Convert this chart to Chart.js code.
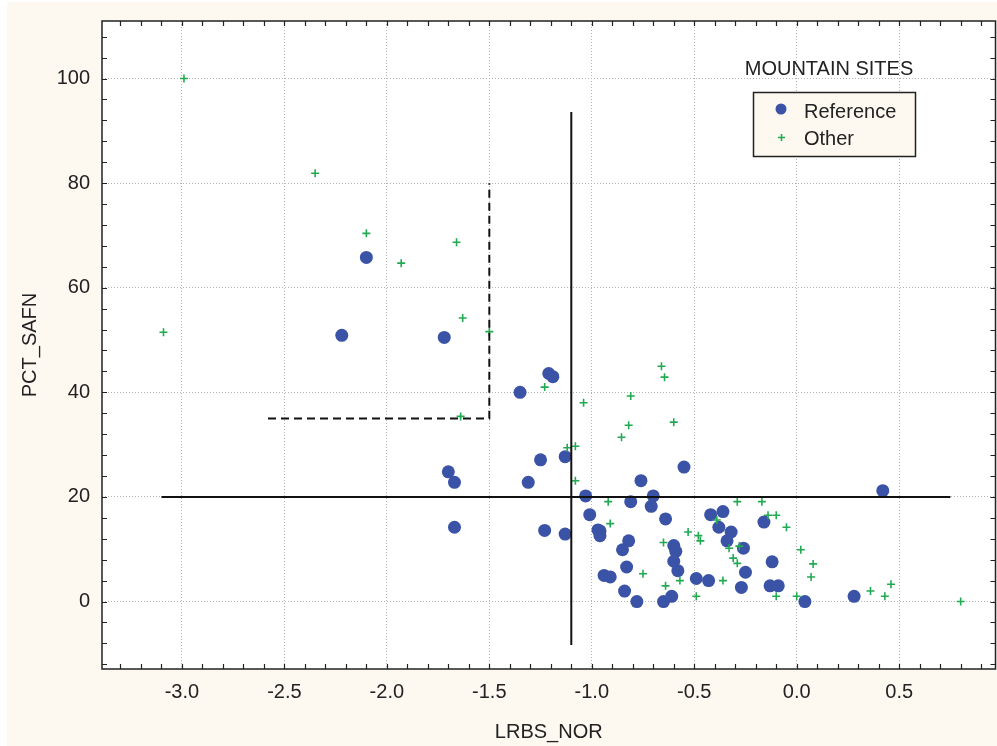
<!DOCTYPE html>
<html>
<head>
<meta charset="utf-8">
<script src="https://cdn.jsdelivr.net/npm/chart.js@4/dist/chart.umd.min.js"></script>
<style>
  html, body { margin: 0; padding: 0; background: #ffffff; overflow: hidden; }
  #wrap { position: absolute; left: 0; top: 0; width: 1002px; height: 746px; }
</style>
</head>
<body>
<div id="wrap"><canvas id="sites"></canvas></div>
<script>
// Reference sites (LRBS_NOR, PCT_SAFN)
const refX = [-2.10, -2.22, -1.72, -1.35, -1.21, -1.19, -1.70, -1.67, -1.67, -1.31,
  -1.25, -1.13, -1.23, -1.13, -1.03, -0.76, -0.55, 0.42, -0.81, -0.70,
  -0.71, -1.01, -0.64, -0.42, -0.36, -0.38, -0.16, -0.32, -0.34, -0.26,
  -0.97, -0.96, -0.96, -0.82, -0.85, -0.60, -0.59, -0.60, -0.58, -0.83,
  -0.12, -0.25, -0.94, -0.91, -0.49, -0.43, -0.27, -0.13, -0.09, -0.84,
  -0.78, -0.65, -0.61, 0.04, 0.28];
const refY = [65.8, 50.9, 50.5, 40.0, 43.6, 43.0, 24.8, 22.8, 14.2, 22.8,
  27.1, 27.7, 13.6, 12.9, 20.2, 23.1, 25.7, 21.2, 19.1, 20.2,
  18.2, 16.6, 15.8, 16.6, 17.2, 14.2, 15.2, 13.3, 11.6, 10.2,
  13.7, 13.5, 12.6, 11.6, 9.9, 10.7, 9.6, 7.7, 5.9, 6.6,
  7.6, 5.6, 5.0, 4.7, 4.4, 4.0, 2.7, 3.0, 3.0, 2.0,
  0.0, 0.0, 1.0, 0.0, 1.0];

// Other sites
const otherX = [-2.99, -2.35, -2.10, -1.66, -1.93, -3.09, -1.63, -1.50, -1.64, -0.66,
  -0.645, -1.23, -0.81, -1.04, -0.60, -0.82, -0.855, -1.12, -1.08, -1.08,
  -0.92, -0.29, -0.17, -0.91, -0.39, -0.14, -0.10, -0.05, -0.53, -0.48,
  -0.47, -0.65, -0.33, -0.28, -0.31, -0.29, 0.02, 0.08, 0.07, -0.75,
  -0.57, -0.36, -0.64, -0.49, -0.10, 0.00, 0.36, 0.46, 0.43, 0.80];
const otherY = [100.0, 81.9, 70.4, 68.7, 64.7, 51.5, 54.2, 51.6, 35.4, 45.0,
  42.9, 41.0, 39.3, 38.0, 34.3, 33.7, 31.4, 29.4, 29.7, 23.1,
  19.1, 19.1, 19.1, 14.9, 15.6, 16.5, 16.5, 14.2, 13.3, 12.6,
  11.6, 11.3, 10.2, 10.6, 8.3, 7.3, 9.9, 7.2, 4.7, 5.3,
  4.0, 4.0, 3.0, 1.0, 1.0, 1.0, 2.0, 3.3, 1.0, 0.0];

// Threshold lines and the dashed target corner
const cutX = [-1.1, -1.1];
const cutXSpan = [-8.3, 93.6];
const cutYSpan = [-3.1, 0.75];
const cutY = [20, 20];
const cornerX = [-2.58, -1.5, -1.5];
const cornerY = [35, 35, 80];

const xTicks = [-3.0, -2.5, -2.0, -1.5, -1.0, -0.5, 0.0, 0.5];
const yTicks = [0, 20, 40, 60, 80, 100];

const legendTitle = "MOUNTAIN SITES";
const FONT = "'Liberation Sans', Arial, sans-serif";
const INK = "#222222";
const CREAM = "#fdf9f1";
const BLUE = "#3b53a6";
const GREEN = "#22aa52";

function zip(xs, ys) {
  return xs.map((x, i) => ({ x: x, y: ys[i] }));
}

const pageBackground = {
  id: "pageBackground",
  beforeDraw(chart) {
    const ctx = chart.ctx;
    const a = chart.chartArea;
    ctx.save();
    ctx.fillStyle = "#ffffff";
    ctx.fillRect(0, 0, chart.width, chart.height);
    ctx.fillStyle = CREAM;
    ctx.fillRect(7, 2, chart.width - 7, chart.height - 2);
    ctx.fillStyle = "#ffffff";
    ctx.fillRect(a.left, a.top, a.right - a.left, a.bottom - a.top);
    ctx.restore();
  },
};

// frame, inward minor ticks and the boxed legend
const frameAndLegend = {
  id: "frameAndLegend",
  afterDraw(chart) {
    const ctx = chart.ctx;
    const a = chart.chartArea;
    const xs = chart.scales.x;
    const ys = chart.scales.y;
    ctx.save();
    ctx.strokeStyle = INK;
    ctx.lineWidth = 1.5;
    ctx.strokeRect(a.left, a.top, a.right - a.left, a.bottom - a.top);

    ctx.lineWidth = 1.2;
    ctx.beginPath();
    for (let i = -33; i <= 9; i++) {
      const px = Math.round(xs.getPixelForValue(i / 10)) + 0.5;
      ctx.moveTo(px, a.bottom);
      ctx.lineTo(px, a.bottom - 5);
      ctx.moveTo(px, a.top);
      ctx.lineTo(px, a.top + 5);
    }
    for (let v = -12; v <= 108; v += 4) {
      const py = Math.round(ys.getPixelForValue(v)) + 0.5;
      ctx.moveTo(a.left, py);
      ctx.lineTo(a.left + 5, py);
      ctx.moveTo(a.right, py);
      ctx.lineTo(a.right - 5, py);
    }
    ctx.stroke();

    // legend
    ctx.fillStyle = INK;
    ctx.font = "20px " + FONT;
    ctx.textAlign = "center";
    ctx.textBaseline = "middle";
    ctx.fillText(legendTitle, 829, 69);

    ctx.fillStyle = CREAM;
    ctx.fillRect(753, 92, 162, 64);
    ctx.strokeStyle = INK;
    ctx.lineWidth = 1.5;
    ctx.strokeRect(753.5, 92.5, 162, 64);

    ctx.fillStyle = BLUE;
    ctx.beginPath();
    ctx.arc(781, 109, 5.5, 0, Math.PI * 2);
    ctx.fill();

    ctx.strokeStyle = GREEN;
    ctx.lineWidth = 1.6;
    ctx.beginPath();
    ctx.moveTo(778, 137.5);
    ctx.lineTo(785, 137.5);
    ctx.moveTo(781.5, 134);
    ctx.lineTo(781.5, 141);
    ctx.stroke();

    ctx.fillStyle = INK;
    ctx.textAlign = "left";
    ctx.fillText(chart.data.datasets[4].label, 804, 112);
    ctx.fillText(chart.data.datasets[3].label, 804, 139);
    ctx.restore();
  },
};

const lineStyle = {
  type: "line",
  borderColor: "#111111",
  borderWidth: 2,
  pointRadius: 0,
  fill: false,
  tension: 0,
};

new Chart(document.getElementById("sites"), {
  type: "scatter",
  data: {
    datasets: [
      Object.assign({ label: "cutX", data: zip(cutX, cutXSpan), order: 0 }, lineStyle),
      Object.assign({ label: "cutY", data: zip(cutYSpan, cutY), order: 0 }, lineStyle),
      Object.assign({ label: "corner", data: zip(cornerX, cornerY), order: 0, borderDash: [8, 5] }, lineStyle),
      {
        label: "Other",
        data: zip(otherX, otherY),
        pointStyle: "cross",
        pointRadius: 4,
        borderColor: GREEN,
        backgroundColor: GREEN,
        borderWidth: 1.6,
        order: 1,
      },
      {
        label: "Reference",
        data: zip(refX, refY),
        pointStyle: "circle",
        pointRadius: 6.5,
        backgroundColor: BLUE,
        borderColor: BLUE,
        borderWidth: 0,
        order: 2,
      },
    ],
  },
  options: {
    responsive: true,
    maintainAspectRatio: false,
    animation: false,
    events: [],
    layout: { padding: { top: 21, right: 2, left: 0, bottom: 0 } },
    plugins: {
      legend: { display: false },
      tooltip: { enabled: false },
    },
    scales: {
      x: {
        type: "linear",
        min: -3.39,
        max: 0.97,
        afterFit(scale) {
          scale.height = 77;
          scale.paddingLeft = 0;
          scale.paddingRight = 0;
        },
        afterBuildTicks(scale) { scale.ticks = xTicks.map(v => ({ value: v })); },
        ticks: {
          color: INK,
          font: { size: 20, family: FONT },
          padding: 11,
          callback: v => v.toFixed(1),
        },
        grid: { color: "#b4b4b4", lineWidth: 1, drawTicks: false },
        border: { display: false, dash: [1, 2] },
        title: {
          display: true,
          text: "LRBS_NOR",
          color: INK,
          font: { size: 20, family: FONT },
          padding: 2,
        },
      },
      y: {
        type: "linear",
        min: -12.9,
        max: 111,
        afterFit(scale) {
          scale.width = 102;
          scale.paddingTop = 0;
          scale.paddingBottom = 0;
        },
        afterBuildTicks(scale) { scale.ticks = yTicks.map(v => ({ value: v })); },
        ticks: {
          color: INK,
          font: { size: 20, family: FONT },
          padding: 12,
        },
        grid: { color: "#b4b4b4", lineWidth: 1, drawTicks: false },
        border: { display: false, dash: [1, 2] },
        title: {
          display: true,
          text: "PCT_SAFN",
          color: INK,
          font: { size: 20, family: FONT },
          padding: 18,
        },
      },
    },
  },
  plugins: [pageBackground, frameAndLegend],
});
</script>
</body>
</html>
